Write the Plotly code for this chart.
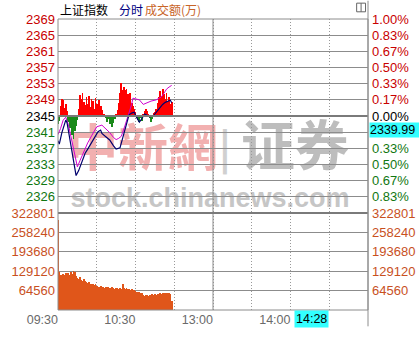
import plotly.graph_objects as go

# ---------------- data ----------------
prev_close = 2345.0

price_min = [0, 1, 3, 6, 7, 10, 12, 14, 16, 18, 21, 23, 26, 29, 31, 33, 34, 37, 40, 43, 45, 48, 50,
             52, 55, 57, 59, 61, 63, 65, 67, 69, 71, 74, 77, 79, 81, 83, 85, 87, 88]
price_val = [2339.0, 2338.2, 2341.0, 2344.0, 2343.4, 2337.8, 2333.5, 2330.6, 2331.8, 2333.6, 2336.0,
             2337.0, 2338.6, 2340.3, 2341.2, 2341.6, 2340.8, 2340.0, 2339.2, 2337.8, 2337.0, 2337.3,
             2339.5, 2341.6, 2345.3, 2345.7, 2345.9, 2344.6, 2343.5, 2344.4, 2345.5, 2345.2, 2344.8,
             2345.1, 2346.3, 2347.0, 2347.8, 2348.3, 2348.6, 2348.8, 2348.2]

avg_min = [0, 2, 4, 6, 8, 11, 13, 15, 17, 20, 23, 26, 30, 34, 37, 40, 43, 45, 47, 49, 52, 55, 57, 58,
           60, 63, 66, 69, 72, 76, 80, 82, 84, 86, 88]
avg_val = [2340.5, 2342.0, 2344.0, 2344.7, 2343.0, 2338.5, 2335.0, 2332.7, 2334.2, 2336.5, 2338.5,
           2340.2, 2342.4, 2342.8, 2342.0, 2341.0, 2339.8, 2339.3, 2339.6, 2340.1, 2342.8, 2345.5,
           2347.8, 2349.3, 2349.2, 2348.9, 2347.8, 2348.2, 2348.6, 2348.9, 2349.6, 2350.5, 2351.5,
           2352.0, 2352.4]

strength = [-1.9, -1.2, 2.5, 4.2, 3.8, 2.0, 3.0, 1.2, -1.5, -3.0, -2.2, -4.5, -5.5, -3.6, -2.4, -1.0,
            1.8, 5.0, 4.2, 5.6, 3.4, 2.6, 4.6, 3.0, 4.8, 2.2, 4.2, 3.6, 1.8, 4.4, 3.0, 2.2, 3.8, 2.5,
            1.4, 0.6, 0.3, -0.6, -1.4, -0.8, -2.0, -1.2, -2.6, -1.6, -0.8, 0.4, 1.5, 3.2, 5.5, 8.0,
            6.4, 7.0, 6.2, 6.6, 5.2, 4.0, 5.6, 3.2, 2.4, 1.8, 1.0, -0.4, -1.0, -1.5, -0.6, -1.2, 0.5,
            1.3, 1.6, 1.1, 0.6, -0.5, -1.4, -0.8, 0.7, 0.9, 1.8, 3.2, 4.5, 6.0, 4.8, 6.6, 5.4, 4.0,
            5.6, 3.6, 4.6, 2.8, 3.4]

volume = [300000, 126000, 118000, 112000, 120000, 115000, 122000, 114000, 124000, 117000, 128000,
          121000, 130000, 127000, 112000, 108000, 104000, 110000, 100000, 98000, 102000, 96000, 94000,
          90000, 92000, 87000, 88000, 85000, 83000, 86000, 80000, 78000, 76000, 79000, 74000, 77000,
          73000, 75000, 72000, 76000, 74000, 71000, 75000, 73000, 70000, 74000, 72000, 69000, 73000,
          71000, 88000, 72000, 70000, 73000, 69000, 71000, 68000, 70000, 66000, 67000, 62000, 60000,
          58000, 61000, 57000, 55000, 50000, 48000, 51000, 49000, 47000, 50000, 48000, 52000, 50000,
          53000, 51000, 54000, 52000, 55000, 53000, 56000, 54000, 57000, 55000, 58000, 56000, 54000,
          31000]
minutes = list(range(len(volume)))

left_price_labels = ["2369", "2365", "2361", "2357", "2353", "2349", "2345",
                     "2341", "2337", "2333", "2329", "2326"]
right_pct_labels = ["1.00%", "0.83%", "0.67%", "0.50%", "0.33%", "0.17%", "0.00%",
                    "", "0.33%", "0.50%", "0.67%", "0.83%"]
level_steps = [6, 5, 4, 3, 2, 1, 0, -1, -2, -3, -4, -5]
vol_ticks = [64560, 129120, 193680, 258240, 322801]
vol_max = 322801
time_ticks = [0, 30, 60, 90, 120, 150, 180, 210, 240]
time_labels = ["09:30", "", "10:30", "", "13:00", "", "14:00", "", ""]
current_price_label = "2339.99"
current_time_label = "14:28"

# ---------------- styling ----------------
W, H = 419, 339
L, R, T, B = 54, 51, 19, 17
PW, PH = W - L - R, H - T - B
RED, GREEN, BLACK = "#c80000", "#117711", "#000000"
ORANGE = "#c8501e"
GRID = "#8c8c8c"
FONT = "Liberation Sans"
FS = 13

def px(xp):
    return (xp - L) / PW

def py(yp):
    return (H - B - yp) / PH

vol_frac = 101 / PH
lo, hi = prev_close * 0.99, prev_close * 1.01
level_vals = [prev_close * (1 + k / 600) for k in level_steps]

def col(k):
    return RED if k > 0 else (BLACK if k == 0 else GREEN)

fig = go.Figure()

bar_colors = ["#ff0000" if s > 0 else "#1a8a1a" for s in strength]
fig.add_trace(go.Bar(x=minutes, y=strength, base=[prev_close] * len(strength),
                     marker=dict(color=bar_colors, line=dict(width=0)), width=0.6,
                     xaxis="x", yaxis="y", showlegend=False))
fig.add_trace(go.Scatter(x=avg_min, y=avg_val, mode="lines", line=dict(color="#d000d0", width=1),
                         xaxis="x", yaxis="y", showlegend=False))
fig.add_trace(go.Scatter(x=price_min, y=price_val, mode="lines", line=dict(color="#00006e", width=1.2),
                         xaxis="x", yaxis="y", showlegend=False))
fig.add_trace(go.Bar(x=minutes, y=volume, marker=dict(color="#e0561a", line=dict(width=0)),
                     width=0.7, xaxis="x", yaxis="y2", showlegend=False))

left_text = [f'<span style="color:{col(k)}">{t}</span>' for t, k in zip(left_price_labels, level_steps)]

fig.update_layout(
    width=W, height=H, margin=dict(l=L, r=R, t=T, b=B, pad=0),
    paper_bgcolor="white", plot_bgcolor="white", bargap=0,
    font=dict(family=FONT, size=FS),
    xaxis=dict(domain=[0, 1], anchor="y2", range=[0, 240], tickvals=time_ticks, ticktext=time_labels,
               ticklabelposition="outside left", showgrid=True, gridcolor="#999999", griddash="1px,2px",
               gridwidth=1, zeroline=False, showline=False, ticks="",
               tickfont=dict(color="#6a6a6a", size=12.5, family=FONT)),
    yaxis=dict(domain=[vol_frac, 1], range=[lo, hi], tickvals=level_vals, ticktext=left_text,
               showgrid=True, gridcolor=GRID, gridwidth=1, zeroline=False, ticks="",
               ticklabelstandoff=2, tickfont=dict(size=FS, family=FONT)),
    yaxis2=dict(domain=[0, vol_frac], range=[0, vol_max], tickvals=vol_ticks,
                ticktext=[f"{v}" for v in vol_ticks], showgrid=True, gridcolor=GRID, gridwidth=1,
                zeroline=False, ticks="", ticklabelstandoff=2,
                tickfont=dict(color=ORANGE, size=FS, family=FONT)),
)

# right-side labels
for t, k, v in zip(right_pct_labels, level_steps, level_vals):
    if t:
        fig.add_annotation(x=1, xref="paper", y=v, yref="y", text=t, showarrow=False,
                           xanchor="left", yanchor="middle", xshift=2,
                           font=dict(color=col(k), size=FS, family=FONT))
for v in vol_ticks:
    fig.add_annotation(x=1, xref="paper", y=v, yref="y2", text=f"{v}", showarrow=False,
                       xanchor="left", yanchor="middle", xshift=2,
                       font=dict(color=ORANGE, size=FS, family=FONT))
# current price box
fig.add_annotation(x=1, xref="paper", y=level_vals[7], yref="y", text=current_price_label,
                   showarrow=False, xanchor="left", yanchor="middle", xshift=1, yshift=2,
                   bgcolor="#33ffff", borderpad=0, width=49, height=14, align="left",
                   font=dict(color="#000000", size=12.5, family=FONT))
# current time box
fig.add_annotation(x=px(328), xref="paper", y=py(322), yref="paper", text=current_time_label,
                   showarrow=False, xanchor="right", yanchor="top", bgcolor="#33ffff",
                   borderpad=1, font=dict(color="#000000", size=12.5, family=FONT))

# header
hdr = [("上证指数", 54, "#000000"), ("分时", 114, "#000080"), ("成交额(万)", 140, "#c86428")]
for t, x0, c in hdr:
    fig.add_annotation(x=px(x0), xref="paper", y=py(9), yref="paper", text=t, showarrow=False,
                       xanchor="left", yanchor="middle",
                       font=dict(color=c, size=12, family="Noto Sans CJK SC"))

# watermark (below grid)
wm = [("中新網", 70, 210, 126, 188, "#f2b0b0", 50, "Noto Sans CJK TC"),
      ("|", 216, 230, 130, 185, "#d0d0d0", 40, "Noto Sans CJK SC"),
      ("证券", 236, 352, 126, 188, "#bdbdbd", 54, "Noto Sans CJK SC"),
      ("stock.chinanews.com", 62, 354, 190, 214, "#c6c6c6", 27, FONT)]
for t, x0, x1, y0, y1, c, s, f in wm:
    fig.add_shape(type="rect", xref="paper", yref="paper", x0=px(x0), x1=px(x1), y0=py(y1), y1=py(y0),
                  line=dict(width=0), fillcolor="rgba(0,0,0,0)", layer="below",
                  label=dict(text=f"<b>{t}</b>", textposition="middle center",
                             font=dict(color=c, size=s, family=f)))

# structural lines
fig.add_shape(type="line", xref="x", yref="paper", x0=120, x1=120, y0=0, y1=1,
              line=dict(color=GRID, width=1))
fig.add_shape(type="line", xref="paper", yref="y", x0=0, x1=1, y0=prev_close, y1=prev_close,
              line=dict(color="#7a7a7a", width=2))
fig.add_shape(type="line", xref="paper", yref="paper", x0=0, x1=1, y0=vol_frac, y1=vol_frac,
              line=dict(color="#7a7a7a", width=2))
fig.add_shape(type="rect", xref="paper", yref="paper", x0=0, x1=1, y0=0, y1=1,
              line=dict(color=GRID, width=1))
fig.add_shape(type="line", xref="paper", yref="paper", x0=1, x1=1, y0=py(H), y1=py(0),
              line=dict(color=GRID, width=1))
# small panel icon at top right
fig.add_shape(type="rect", xref="paper", yref="paper", x0=px(356.5), x1=px(365.5), y0=py(11.5), y1=py(2.5),
              line=dict(color="#666666", width=1))
fig.add_shape(type="line", xref="paper", yref="paper", x0=px(361), x1=px(361), y0=py(11.5), y1=py(2.5),
              line=dict(color="#666666", width=1))

fig.write_html("out.html")
